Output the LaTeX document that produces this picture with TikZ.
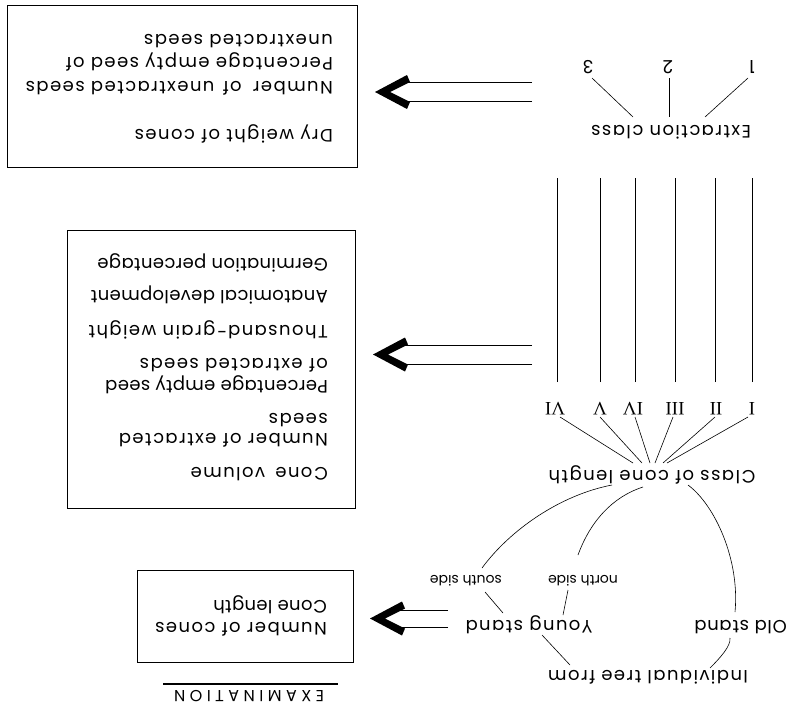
\documentclass[tikz,border=0pt]{standalone}
\usepackage{fontspec}
\setmainfont{Poppins}[LetterSpace=8]
\newfontfamily\sidefont{Poppins}
\newfontfamily\tightfont{Poppins}[LetterSpace=2]
\newfontfamily\oldfont{Poppins}[LetterSpace=4]
\newfontfamily\examfont{Poppins}[LetterSpace=28]
\newfontfamily\romfont{Liberation Serif}
\usetikzlibrary{calc}
\begin{document}
\begin{tikzpicture}[x=1pt,y=-1pt,
  lbl/.style={rotate=180, inner sep=0pt, anchor=base, font=\fontsize{18}{20}\selectfont},
  boxtxt/.style={rotate=180, inner sep=0pt, anchor=base west, font=\fontsize{18}{20}\selectfont},
  tightbox/.style={boxtxt, font=\tightfont\fontsize{18}{20}\selectfont},
  side/.style={lbl, font=\sidefont\fontsize{14}{16}\selectfont},
  roman/.style={lbl, font=\romfont\fontsize{19}{20}\selectfont},
  conn/.style={line width=0.6pt},
  frame/.style={draw, line width=0.8pt, inner sep=0pt, anchor=north west},
  chev/.pic={\fill (0,0) -- (32,-17) -- (35,-10) -- (15,0) -- (35,10) -- (32,17) -- cycle;},
]
\useasboundingbox (0,0) rectangle (789,712);

% boxes
\node[frame, minimum width=350pt, minimum height=162pt] (boxA) at (7,5) {};
\node[frame, minimum width=288pt, minimum height=278pt] (boxB) at (67,230) {};
\node[frame, minimum width=216pt, minimum height=92pt] (boxC) at (137,570) {};

% box texts
\node[boxtxt] (a1) at (333,129) {Dry weight of cones};
\node[boxtxt] (a2) at (333,81) {Number\hspace{5pt} of\hspace{2pt} unextracted seeds};
\node[boxtxt] (a3) at (333,57) {Percentage empty seed of};
\node[boxtxt] (a4) at (333,34) {unextracted seeds};

\node[boxtxt] (b1) at (328,467) {Cone\hspace{4pt} volume};
\node[boxtxt] (b2) at (328,433) {Number of extracted};
\node[boxtxt] (b3) at (328,413) {seeds};
\node[tightbox] (b4) at (328,380) {Percentage empty seed};
\node[boxtxt] (b5) at (328,358) {of extracted seeds};
\node[boxtxt] (b6) at (328,325) {Thousand-grain weight};
\node[tightbox] (b7) at (328,290) {Anatomical development};
\node[tightbox] (b8) at (328,258) {Germination percentage};

\node[boxtxt] (c1) at (327,622) {Number of cones};
\node[tightbox] (c2) at (327,600) {Cone length};

\node[lbl, font=\examfont\fontsize{16}{18}\selectfont] (exam) at (249,690) {EXAMINATION};
\draw[line width=1.2pt] (163,684) -- (338,684);

% diagram labels
\node[lbl] (indiv) at (648,670) {Individual tree from};
\node[lbl, anchor=base west, font=\oldfont\fontsize{18}{20}\selectfont] (ostand) at (787,620) {Old stand};
\node[lbl] (young) at (529,620) {Young stand};
\node[side] (north) at (583,575) {north side};
\node[side] (south) at (466,575) {south side};
\node[lbl] (cls) at (652,470) {Class of cone length};
\node[roman] (r6) at (555,402) {VI};
\node[roman] (r5) at (600,402) {V};
\node[roman] (r4) at (633,402) {IV};
\node[roman] (r3) at (675,402) {III};
\node[roman] (r2) at (716,402) {II};
\node[roman] (r1) at (752,402) {I};
\node[lbl] (extr) at (671,125) {Extraction class};
\node[lbl] (d1) at (752,60) {1};
\node[lbl] (d2) at (668,60) {2};
\node[lbl] (d3) at (588,60) {3};

% connectors
\draw[conn] ($(indiv.base)+(-78,-5)$) -- ($(young.base)+(13,15)$);
\draw[conn] ($(indiv.base)+(62,-2)$) .. controls ($(indiv.base)+(72,-12)$) and (731,646) .. (730,638);
\draw[conn] (735,612) .. controls (740,560) and (715,505) .. ($(cls.base)+(36,15)$);
\draw[conn] ($(young.base)+(34,-5)$) -- ($(north.base)+(-15,15)$);
\draw[conn] ($(young.base)+(-26,-7)$) -- ($(south.base)+(19,17)$);
\draw[conn] ($(north.base)+(-5,-20)$) .. controls (590,522) and (612,497) .. ($(cls.base)+(-9,17)$);
\draw[conn] ($(south.base)+(16,-7)$) .. controls (510,530) and (560,495) .. ($(cls.base)+(-40,15)$);

\draw[conn] ($(r6.base)+(5,15)$) -- ($(cls.base)+(-19,-7)$);
\draw[conn] ($(r5.base)+(0,15)$) -- ($(cls.base)+(-10,-7)$);
\draw[conn] ($(r4.base)+(2,15)$) -- ($(cls.base)+(-2,-7)$);
\draw[conn] ($(r3.base)+(-2,15)$) -- ($(cls.base)+(3,-7)$);
\draw[conn] ($(r2.base)+(-1,15)$) -- ($(cls.base)+(11,-7)$);
\draw[conn] ($(r1.base)+(-4,15)$) -- ($(cls.base)+(15,-7)$);

\foreach \r/\dx in {r6/2, r5/0, r4/2, r3/0, r2/-1, r1/0}{
  \draw[conn] ($(\r.base)+(\dx,-20)$) -- ++(0,-204);
}

\draw[conn] ($(d1.base)+(-4,18)$) -- ($(extr.base)+(34,-8)$);
\draw[conn] ($(d2.base)+(1,18)$) -- ($(extr.base)+(-2,-8)$);
\draw[conn] ($(d3.base)+(4,18)$) -- ($(extr.base)+(-38,-8)$);

% double arrows
\pic at (375,92) {chev};
\coordinate (ta) at (532,82.5); \coordinate (tb) at (532,101.5);
\draw[conn] (ta) -- (405,82.5); \draw[conn] (tb) -- (405,101.5);
\pic at (373,354.5) {chev};
\coordinate (ma) at (532,345); \coordinate (mb) at (532,364);
\draw[conn] (ma) -- (403,345); \draw[conn] (mb) -- (403,364);
\pic at (370,618.5) {chev};
\coordinate (ba) at (448,610); \coordinate (bb) at (448,627);
\draw[conn] (ba) -- (400,610); \draw[conn] (bb) -- (400,627);
\end{tikzpicture}
\end{document}
